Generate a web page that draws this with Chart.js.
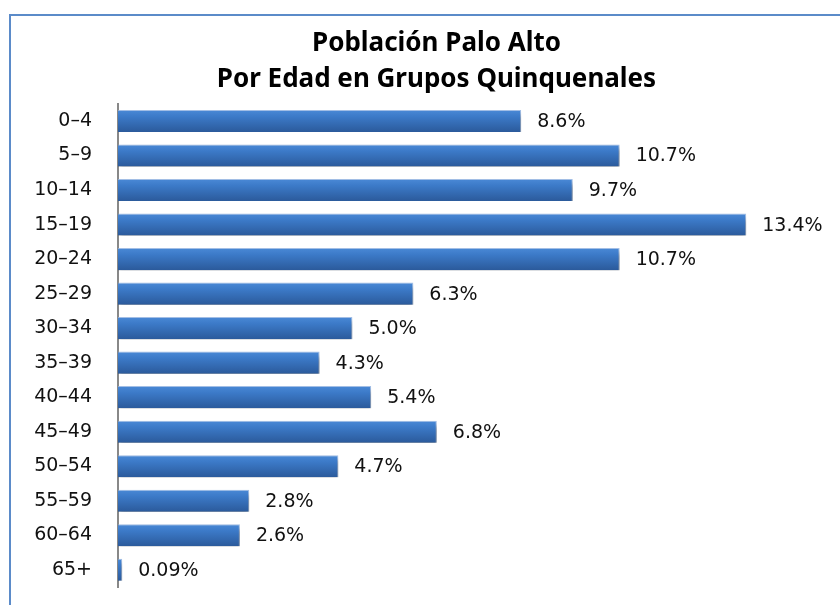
<!DOCTYPE html>
<html>
<head>
<meta charset="utf-8">
<script src="https://cdn.jsdelivr.net/npm/chart.js@4"></script>
<style>
    html, body { margin: 0; padding: 0; background: #fff; }
    #wrap { position: relative; width: 840px; height: 605px; overflow: hidden; }
    #frame {
        position: absolute; left: 9px; top: 14px; width: 900px; height: 700px;
        border-left: 2px solid #5b8bc9; border-top: 2px solid #5b8bc9;
    }
    canvas { position: absolute; left: 0; top: 0; }
</style>
</head>
<body>
<div id="wrap">
    <div id="frame"></div>
    <canvas id="chart" width="840" height="605"></canvas>
</div>
<script>
// --- Datos ---
const grupos = ['0–4', '5–9', '10–14', '15–19', '20–24', '25–29', '30–34',
    '35–39', '40–44', '45–49', '50–54', '55–59', '60–64', '65+'];
const porcentajes = [8.6, 10.7, 9.7, 13.4, 10.7, 6.3, 5.0, 4.3, 5.4, 6.8, 4.7, 2.8, 2.6, 0.09];
const etiquetas = ['8.6%', '10.7%', '9.7%', '13.4%', '10.7%', '6.3%', '5.0%',
    '4.3%', '5.4%', '6.8%', '4.7%', '2.8%', '2.6%', '0.09%'];
const titulo = ['Población Palo Alto', 'Por Edad en Grupos Quinquenales'];

const fuente = "'DejaVu Sans', sans-serif";
const grosor = 0.64;

// sombra debajo de las barras
const sombraPlugin = {
    id: 'sombra',
    beforeDatasetsDraw(chart) {
        const c = chart.ctx;
        c.save();
        c.shadowColor = 'rgba(0,0,0,0.45)';
        c.shadowBlur = 5;
        c.shadowOffsetX = 1;
        c.shadowOffsetY = 4;
    },
    afterDatasetsDraw(chart) {
        chart.ctx.restore();
    }
};

// etiquetas de valor al final de cada barra
const valoresPlugin = {
    id: 'valores',
    afterDatasetsDraw(chart) {
        const c = chart.ctx;
        const meta = chart.getDatasetMeta(0);
        c.save();
        c.font = '19px ' + fuente;
        c.fillStyle = '#111';
        c.textBaseline = 'middle';
        c.textAlign = 'left';
        meta.data.forEach((bar, i) => {
            c.fillText(etiquetas[i], bar.x + 16, bar.y + 1);
        });
        c.restore();
    }
};

const ctx = document.getElementById('chart').getContext('2d');
new Chart(ctx, {
    type: 'bar',
    data: {
        labels: grupos,
        datasets: [{
            data: porcentajes,
            backgroundColor: (context) => {
                const chart = context.chart;
                const y = chart.scales && chart.scales.y;
                if (!chart.chartArea || !y || context.dataIndex === undefined) return '#3a72bd';
                const centro = y.getPixelForValue(context.dataIndex);
                const h = (y.height / grupos.length) * grosor;
                const g = chart.ctx.createLinearGradient(0, centro - h / 2, 0, centro + h / 2);
                g.addColorStop(0, '#4a89d6');
                g.addColorStop(0.3, '#3c7ac8');
                g.addColorStop(1, '#2b5a9b');
                return g;
            },
            borderColor: 'rgba(140,175,225,0.8)',
            borderWidth: { top: 1, right: 1, left: 0, bottom: 0 },
            borderSkipped: false,
            categoryPercentage: 1.0,
            barPercentage: grosor
        }]
    },
    options: {
        responsive: false,
        animation: false,
        indexAxis: 'y',
        layout: { padding: { left: 33, right: 0, bottom: 18, top: 0 } },
        scales: {
            x: {
                display: false,
                min: 0,
                max: 15.4
            },
            y: {
                afterFit: (scale) => { scale.width = 85; },
                grid: { display: false, drawTicks: true, tickLength: 26 },
                border: { display: true, color: '#888', width: 2 },
                ticks: {
                    color: '#111',
                    padding: 0,
                    font: { family: fuente, size: 19 }
                }
            }
        },
        plugins: {
            legend: { display: false },
            tooltip: { enabled: false },
            title: {
                display: true,
                text: titulo,
                color: '#000',
                font: { family: "'Noto Sans', sans-serif", size: 26, weight: 'bold', lineHeight: 1.38 },
                padding: { top: 26, bottom: 6 }
            }
        }
    },
    plugins: [sombraPlugin, valoresPlugin]
});
</script>
</body>
</html>
